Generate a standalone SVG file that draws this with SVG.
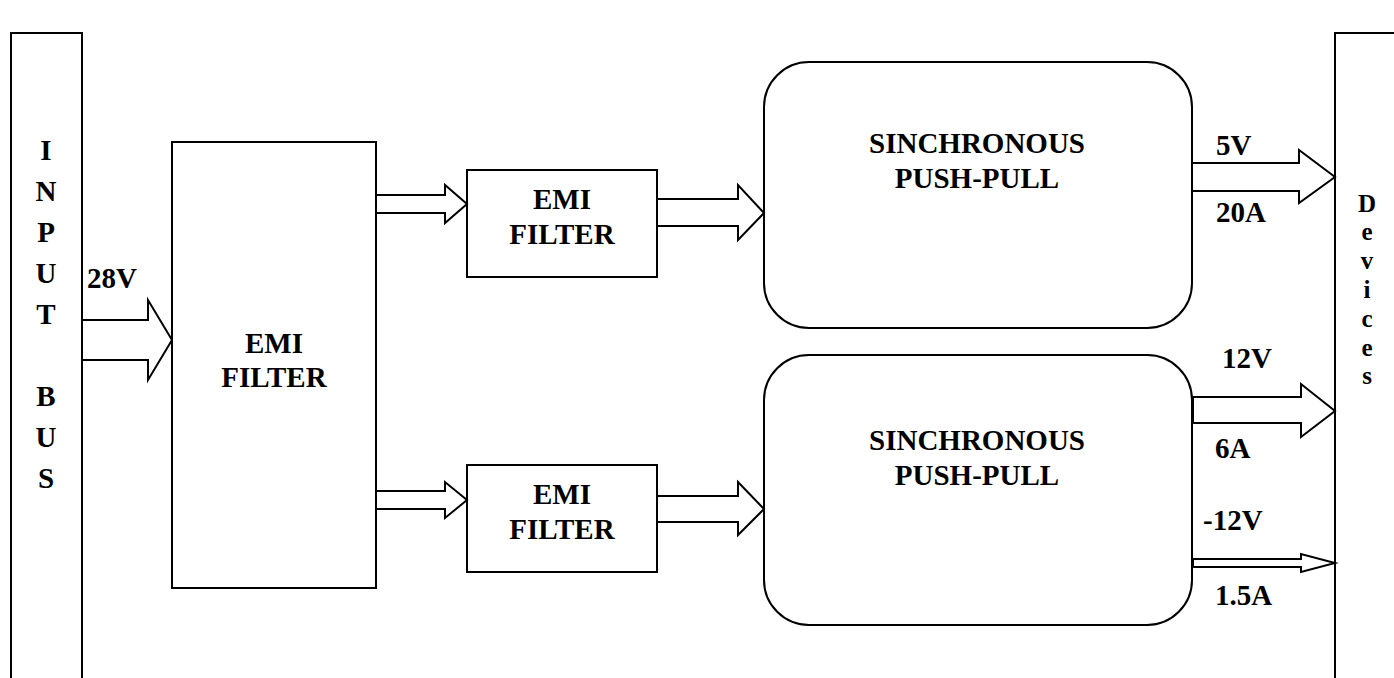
<svg xmlns="http://www.w3.org/2000/svg" width="1394" height="678" viewBox="0 0 1394 678">
<style>
.box{fill:#fff;stroke:#000;stroke-width:2}
.arr{fill:#fff;stroke:#000;stroke-width:2;stroke-linejoin:miter}
text{font-family:"Liberation Serif","Times New Roman",serif;font-weight:bold;fill:#000}
.t{font-size:29px}
.c{text-anchor:middle}
.d{font-size:25px;text-anchor:middle}
</style>
<rect width="1394" height="678" fill="#fff"/>
<g id="input-bus">
<rect class="box" x="11" y="33" width="71" height="700"/>
<text class="t c" x="46" y="160">I</text>
<text class="t c" x="46" y="201">N</text>
<text class="t c" x="46" y="242">P</text>
<text class="t c" x="46" y="283">U</text>
<text class="t c" x="46" y="324">T</text>
<text class="t c" x="46" y="406">B</text>
<text class="t c" x="46" y="447">U</text>
<text class="t c" x="46" y="488">S</text>
</g>
<g id="devices">
<rect class="box" x="1335" y="33" width="80" height="700"/>
<text class="d" x="1367" y="212">D</text>
<text class="d" x="1367" y="240">e</text>
<text class="d" x="1367" y="269">v</text>
<text class="d" x="1367" y="298">i</text>
<text class="d" x="1367" y="327">c</text>
<text class="d" x="1367" y="356">e</text>
<text class="d" x="1367" y="384">s</text>
</g>
<g id="emi-main">
<rect class="box" x="172" y="142" width="204" height="446"/>
<text class="t c" x="274" y="353">EMI</text>
<text class="t c" x="274" y="387">FILTER</text>
</g>
<g id="emi-top">
<rect class="box" x="467" y="170" width="190" height="107"/>
<text class="t c" x="562" y="209">EMI</text>
<text class="t c" x="562" y="244">FILTER</text>
</g>
<g id="emi-bottom">
<rect class="box" x="467" y="465" width="190" height="107"/>
<text class="t c" x="562" y="504">EMI</text>
<text class="t c" x="562" y="539">FILTER</text>
</g>
<g id="pushpull-top">
<rect class="box" x="764" y="62" width="428" height="266" rx="45" ry="45"/>
<text class="t c" x="977" y="153">SINCHRONOUS</text>
<text class="t c" x="977" y="188">PUSH-PULL</text>
</g>
<g id="pushpull-bottom">
<rect class="box" x="764" y="355" width="428" height="270" rx="45" ry="45"/>
<text class="t c" x="977" y="450">SINCHRONOUS</text>
<text class="t c" x="977" y="485">PUSH-PULL</text>
</g>
<g id="connectors">
<polygon class="arr" points="82,320 148,320 148,300 172,340 148,380 148,360 82,360"/>
<polygon class="arr" points="376,195 445,195 445,185 467,204 445,223 445,213 376,213"/>
<polygon class="arr" points="657,199 738,199 738,185 764,213 738,240 738,226 657,226"/>
<polygon class="arr" points="376,491 445,491 445,482 467,500 445,518 445,509 376,509"/>
<polygon class="arr" points="657,496 738,496 738,482 764,509 738,535 738,522 657,522"/>
<polygon class="arr" points="1192,163 1299,163 1299,150 1335,177 1299,203 1299,191 1192,191"/>
<polygon class="arr" points="1193,397 1301,397 1301,384 1335,411 1301,437 1301,423 1193,423"/>
<polygon class="arr" points="1193,559 1301,559 1301,554 1335,563 1301,572 1301,567 1193,567"/>
</g>
<g id="labels">
<text class="t" x="87" y="288">28V</text>
<text class="t" x="1216" y="155">5V</text>
<text class="t" x="1216" y="222">20A</text>
<text class="t" x="1222" y="368">12V</text>
<text class="t" x="1215" y="458">6A</text>
<text class="t" x="1203" y="530">-12V</text>
<text class="t" x="1215" y="605">1.5A</text>
</g>
</svg>
